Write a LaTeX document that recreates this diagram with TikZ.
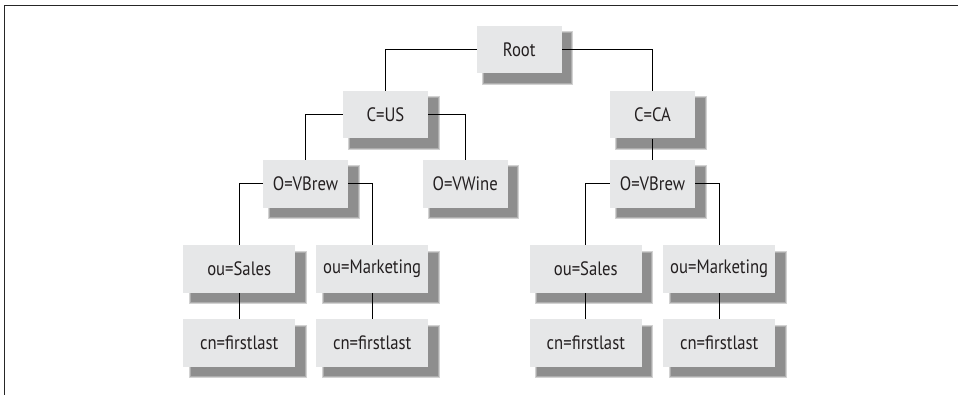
\documentclass[tikz,border=0pt]{standalone}
\usepackage{fontspec}
\setmainfont{PT Sans}[FakeStretch=0.86]
\usetikzlibrary{backgrounds}
\definecolor{boxfill}{HTML}{E6E7E8}
\definecolor{shadeA}{HTML}{D2D2D2}
\definecolor{shadeB}{HTML}{ADADAD}
\definecolor{shadeC}{HTML}{8E8E8E}
\definecolor{inkgray}{HTML}{231F20}
\tikzset{
  entry/.style={fill=boxfill, draw=none, minimum width=85pt, minimum height=47.5pt,
    inner sep=0pt, font=\fontsize{19.4}{21}\selectfont, text=inkgray},
  wide/.style={entry, minimum width=111.7pt},
  link/.style={draw=black, line width=0.9pt},
  frameline/.style={draw=black!85, line width=1.3pt}
}
\begin{document}
\begin{tikzpicture}[x=1pt,y=-1pt]
  \useasboundingbox (0,0) rectangle (958,395);
  % partial frame: left and top edges
  \draw[frameline] (4.6,395) -- (4.6,5.6) -- (958,5.6);

  % directory entries
  \node[entry] (root)   at (519.2,49.7)  {Root};
  \node[entry] (cus)    at (385.5,114.7) {C=US};
  \node[entry] (cca)    at (652.5,114.7) {C=CA};
  \node[entry] (brewus) at (305.5,183.8) {O=VBrew};
  \node[entry] (wine)   at (465.2,183.8) {O=VWine};
  \node[entry] (brewca) at (652.5,183.8) {O=VBrew};
  \node[wide]  (salesus) at (239.2,269) {ou=Sales};
  \node[wide]  (mktus)   at (372.2,269) {ou=Marketing};
  \node[wide]  (salesca) at (585.8,269) {ou=Sales};
  \node[wide]  (mktca)   at (719.2,269) {ou=Marketing};
  \node[wide]  (cna) at (239.2,343) {cn=firstlast};
  \node[wide]  (cnb) at (372.2,343) {cn=firstlast};
  \node[wide]  (cnc) at (585.8,343) {cn=firstlast};
  \node[wide]  (cnd) at (719.2,343) {cn=firstlast};

  % soft drop shadows behind the entries
  \begin{scope}[on background layer]
    \foreach \n in {root,cus,cca,brewus,wine,brewca,salesus,mktus,salesca,mktca,cna,cnb,cnc,cnd}{
      \fill[shadeA] ([shift={(5.5,5.5)}]\n.north west) rectangle ([shift={(11.5,11.5)}]\n.south east);
      \fill[shadeB] ([shift={(6.5,6.5)}]\n.north west) rectangle ([shift={(10.5,10.5)}]\n.south east);
      \fill[shadeC] ([shift={(7.5,7.5)}]\n.north west) rectangle ([shift={(9.5,9.5)}]\n.south east);
    }
  \end{scope}

  % tree connectors
  \begin{scope}[on background layer]
    \draw[link] (root.west) -| (cus.north);
    \draw[link] (root.east) -| (cca.north);
    \draw[link] (cus.west) -| (brewus.north);
    \draw[link] (cus.east) -| (wine.north);
    \draw[link] (cca.south) -- (brewca.north);
    \draw[link] (brewus.west) -| (salesus.north);
    \draw[link] (brewus.east) -| (mktus.north);
    \draw[link] (brewca.west) -| (salesca.north);
    \draw[link] (brewca.east) -| (mktca.north);
    \draw[link] (salesus.south) -- (cna.north);
    \draw[link] (mktus.south) -- (cnb.north);
    \draw[link] (salesca.south) -- (cnc.north);
    \draw[link] (mktca.south) -- (cnd.north);
  \end{scope}
\end{tikzpicture}
\end{document}
